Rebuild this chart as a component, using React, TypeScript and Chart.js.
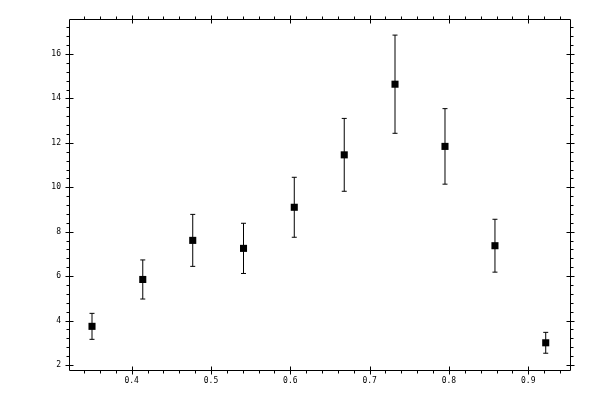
import { useEffect, useRef } from "react";
import { Chart, registerables } from "chart.js";
import type { Plugin } from "chart.js";
Chart.register(...registerables);

const xValues = [0.35, 0.414, 0.477, 0.541, 0.605, 0.668, 0.732, 0.795, 0.858, 0.922];
const yValues = [3.74, 5.85, 7.61, 7.25, 9.1, 11.46, 14.64, 11.84, 7.37, 3.0];
const yErrors = [0.585, 0.88, 1.17, 1.13, 1.35, 1.64, 2.21, 1.7, 1.19, 0.47];

const xTicks = [0.4, 0.5, 0.6, 0.7, 0.8, 0.9];
const yTicks = [2, 4, 6, 8, 10, 12, 14, 16];
const xMinorStep = 0.02;
const yMinorStep = 0.4;

const FONT = { family: "'DejaVu Sans Mono', monospace", size: 8 };

// box around the plot with crossing major ticks and outward minor ticks
const framePlugin: Plugin = {
  id: "frame",
  afterDraw(chart) {
    const { ctx, chartArea: a, scales } = chart;
    const xs = scales.x;
    const ys = scales.y;
    const px = (v: number) => Math.round(v) + 0.5;
    const L = px(a.left), R = px(a.right), T = px(a.top), B = px(a.bottom);
    ctx.save();
    ctx.strokeStyle = "#000";
    ctx.lineWidth = 1;
    ctx.beginPath();
    ctx.rect(L, T, R - L, B - T);

    const major = 4;
    const minor = 3;
    const eps = 1e-6;
    // x ticks (bottom and top)
    for (let v = Math.ceil(xs.min / xMinorStep) * xMinorStep; v <= xs.max + eps; v += xMinorStep) {
      const x = px(xs.getPixelForValue(v));
      if (x <= L || x >= R) continue;
      const isMajor = xTicks.some((t) => Math.abs(t - v) < eps);
      if (isMajor) {
        ctx.moveTo(x, B - major); ctx.lineTo(x, B + major);
        ctx.moveTo(x, T - major); ctx.lineTo(x, T + major);
      } else {
        ctx.moveTo(x, B); ctx.lineTo(x, B + minor);
        ctx.moveTo(x, T); ctx.lineTo(x, T - minor);
      }
    }
    // y ticks (left and right)
    for (let v = Math.ceil(ys.min / yMinorStep) * yMinorStep; v <= ys.max + eps; v += yMinorStep) {
      const y = px(ys.getPixelForValue(v));
      if (y <= T || y >= B) continue;
      const isMajor = yTicks.some((t) => Math.abs(t - v) < eps);
      if (isMajor) {
        ctx.moveTo(L - major, y); ctx.lineTo(L + major, y);
        ctx.moveTo(R - major, y); ctx.lineTo(R + major, y);
      } else {
        ctx.moveTo(L, y); ctx.lineTo(L - minor, y);
        ctx.moveTo(R, y); ctx.lineTo(R + minor, y);
      }
    }
    ctx.stroke();
    ctx.restore();
  },
};

const App = () => {
  const canvasRef = useRef<HTMLCanvasElement | null>(null);
  useEffect(() => {
    if (!canvasRef.current) return;

    const errorBars = xValues.map((x, i) => ({
      type: "line" as const,
      data: [
        { x, y: yValues[i] - yErrors[i] },
        { x, y: yValues[i] + yErrors[i] },
      ],
      borderColor: "#000",
      borderWidth: 1,
      showLine: true,
      pointStyle: "line" as const,
      pointRadius: 2.5,
      pointHoverRadius: 2.5,
      pointBorderWidth: 1,
      pointBorderColor: "#000",
    }));

    const chartInstance = new Chart(canvasRef.current, {
      type: "scatter",
      data: {
        datasets: [
          {
            data: xValues.map((x, i) => ({ x, y: yValues[i] })),
            pointStyle: "rect",
            pointRadius: 5,
            pointHoverRadius: 5,
            pointBorderWidth: 0,
            backgroundColor: "#000",
            borderColor: "#000",
          },
          ...errorBars,
        ] as any,
      },
      options: {
        responsive: false,
        animation: false,
        layout: { padding: { top: 19, right: 30, left: 0, bottom: 0 } },
        plugins: {
          legend: { display: false },
          tooltip: { enabled: false },
        },
        scales: {
          x: {
            type: "linear",
            min: 0.321,
            max: 0.9526,
            grid: { display: false, drawTicks: false },
            border: { display: false },
            afterBuildTicks: (scale) => {
              scale.ticks = xTicks.map((value) => ({ value }));
            },
            afterFit: (scale) => {
              scale.height = 30;
            },
            ticks: {
              color: "#000",
              font: FONT,
              padding: 6,
              maxRotation: 0,
              autoSkip: false,
              callback: (v) => Number(v).toFixed(1),
            },
          },
          y: {
            type: "linear",
            min: 1.775,
            max: 17.575,
            grid: { display: false, drawTicks: false },
            border: { display: false },
            afterBuildTicks: (scale) => {
              scale.ticks = yTicks.map((value) => ({ value }));
            },
            afterFit: (scale) => {
              scale.width = 69;
            },
            ticks: {
              color: "#000",
              font: FONT,
              padding: 8,
              autoSkip: false,
              callback: (v) => String(v),
            },
          },
        },
      },
      plugins: [framePlugin],
    });

    return () => {
      chartInstance.destroy();
    };
  }, []);

  return (
    <div style={{ position: "fixed", left: 0, top: 0, width: 600, height: 400, background: "#fff" }}>
      <canvas ref={canvasRef} width={600} height={400} style={{ display: "block" }} />
    </div>
  );
};

export default App;
